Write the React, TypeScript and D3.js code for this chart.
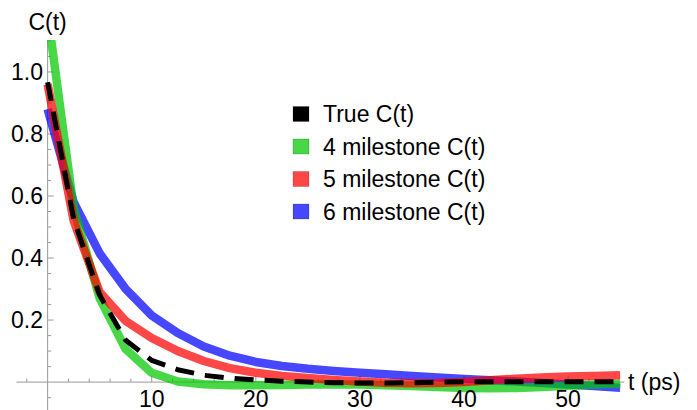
import React from "react";
import * as d3 from "d3";

const times = [0, 2.5, 5, 7.5, 10, 12.5, 15, 17.5, 20, 22.5, 25, 27.5, 30, 32.5, 35, 37.5, 40, 42.5, 45, 47.5, 50, 52.5, 55];

const trueC = [0.967, 0.525, 0.28, 0.135, 0.07, 0.04, 0.022, 0.013, 0.007, 0.003, 0.0, -0.002, -0.003, -0.003, -0.002, 0.0, 0.001, 0.001, 0.001, 0.001, 0.001, 0.001, 0.001];
const m4C = [1.19, 0.56, 0.27, 0.106, 0.03, 0.002, -0.007, -0.01, -0.01, -0.009, -0.008, -0.007, -0.008, -0.01, -0.013, -0.016, -0.019, -0.02, -0.019, -0.016, -0.012, -0.008, -0.005];
const m5C = [0.96, 0.52, 0.29, 0.197, 0.142, 0.1, 0.068, 0.045, 0.03, 0.02, 0.013, 0.007, 0.002, -0.002, -0.004, -0.003, 0.0, 0.006, 0.011, 0.015, 0.018, 0.02, 0.022];
const m6C = [0.88, 0.58, 0.415, 0.3, 0.215, 0.158, 0.115, 0.085, 0.065, 0.052, 0.043, 0.036, 0.03, 0.025, 0.02, 0.015, 0.01, 0.006, 0.002, -0.003, -0.008, -0.013, -0.018];

const legendLabels = ["True C(t)", "4 milestone C(t)", "5 milestone C(t)", "6 milestone C(t)"];
const legendColors = ["#000000", "rgb(71,215,71)", "rgb(255,71,71)", "rgb(71,71,255)"];

const xMajorTicks = [10, 20, 30, 40, 50];
const yMajorTicks = [0.2, 0.4, 0.6, 0.8, 1.0];

const W = 697;
const H = 410;
const FONT = "'Liberation Sans', Arial, sans-serif";
const FS = 23;

export default function App() {
  const x = d3.scaleLinear().domain([-3, 55.4]).range([16.4, 624.3]);
  const y = d3.scaleLinear().domain([-0.09, 1.103]).range([410, 40]);

  const line = d3
    .line<number>()
    .x((_, i) => x(times[i]))
    .y((d) => y(d));

  const xMinor = d3.range(-2, 56, 2).filter((t) => t !== 0 && t % 10 !== 0);
  const yMinor = d3.range(-0.05, 1.101, 0.05).filter((v) => Math.abs(v) > 1e-6 && Math.abs(Math.round(v * 5) - v * 5) > 1e-6);

  const axisColor = "#999999";
  const x0 = x(0);
  const y0 = y(0);

  return (
    <svg width={W} height={H} style={{ position: "absolute", left: 0, top: 0 }}>
      <defs>
        <clipPath id="plotClip">
          <rect x={x(-3)} y={y(1.103)} width={x(55.4) - x(-3)} height={y(-0.09) - y(1.103)} />
        </clipPath>
      </defs>
      <rect width={W} height={H} fill="#fff" />
      {/* axes */}
      <line x1={x(-3)} x2={x(55.4)} y1={y0} y2={y0} stroke={axisColor} strokeWidth={1} />
      <line x1={x0} x2={x0} y1={y(1.103)} y2={y(-0.09)} stroke={axisColor} strokeWidth={1} />
      {xMajorTicks.map((t) => (
        <line key={"xM" + t} x1={x(t)} x2={x(t)} y1={y0} y2={y0 - 6} stroke={axisColor} />
      ))}
      {xMinor.map((t) => (
        <line key={"xm" + t} x1={x(t)} x2={x(t)} y1={y0} y2={y0 - 3.5} stroke={axisColor} />
      ))}
      {yMajorTicks.map((v) => (
        <line key={"yM" + v} x1={x0} x2={x0 + 6} y1={y(v)} y2={y(v)} stroke={axisColor} />
      ))}
      {yMinor.map((v, i) => (
        <line key={"ym" + i} x1={x0} x2={x0 + 3.5} y1={y(v)} y2={y(v)} stroke={axisColor} />
      ))}
      {/* curves */}
      <g clipPath="url(#plotClip)" fill="none" strokeLinejoin="round">
        <path d={line(m6C) || ""} stroke="rgb(0,0,255)" strokeOpacity={0.72} strokeWidth={8.5} />
        <path d={line(m4C) || ""} stroke="rgb(0,200,0)" strokeOpacity={0.72} strokeWidth={8.5} />
        <path d={line(m5C) || ""} stroke="rgb(255,0,0)" strokeOpacity={0.72} strokeWidth={8.5} />
        <path d={line(trueC) || ""} stroke="#000" strokeWidth={5} strokeDasharray="19,11" />
      </g>
      {/* tick labels */}
      {xMajorTicks.map((t) => (
        <text key={"xl" + t} x={x(t)} y={407} textAnchor="middle" fontFamily={FONT} fontSize={FS} fill="#000">
          {t}
        </text>
      ))}
      {yMajorTicks.map((v) => (
        <text key={"yl" + v} x={43} y={y(v)} dy="0.36em" textAnchor="end" fontFamily={FONT} fontSize={FS} fill="#000">
          {d3.format(".1f")(v)}
        </text>
      ))}
      {/* axis labels */}
      <text x={x0} y={30} textAnchor="middle" fontFamily={FONT} fontSize={FS} fill="#000">C(t)</text>
      <text x={628} y={y0} dy="0.36em" textAnchor="start" fontFamily={FONT} fontSize={FS} fill="#000">t (ps)</text>
      {/* legend */}
      {legendLabels.map((lab, i) => {
        const cy = 114 + i * 32.5;
        return (
          <g key={lab}>
            <rect x={293} y={cy - 7.5} width={16} height={15} fill={legendColors[i]} stroke="rgba(0,0,0,0.25)" strokeWidth={0.7} />
            <text x={323} y={cy} dy="0.36em" fontFamily={FONT} fontSize={FS} fill="#000">
              {lab}
            </text>
          </g>
        );
      })}
    </svg>
  );
}
